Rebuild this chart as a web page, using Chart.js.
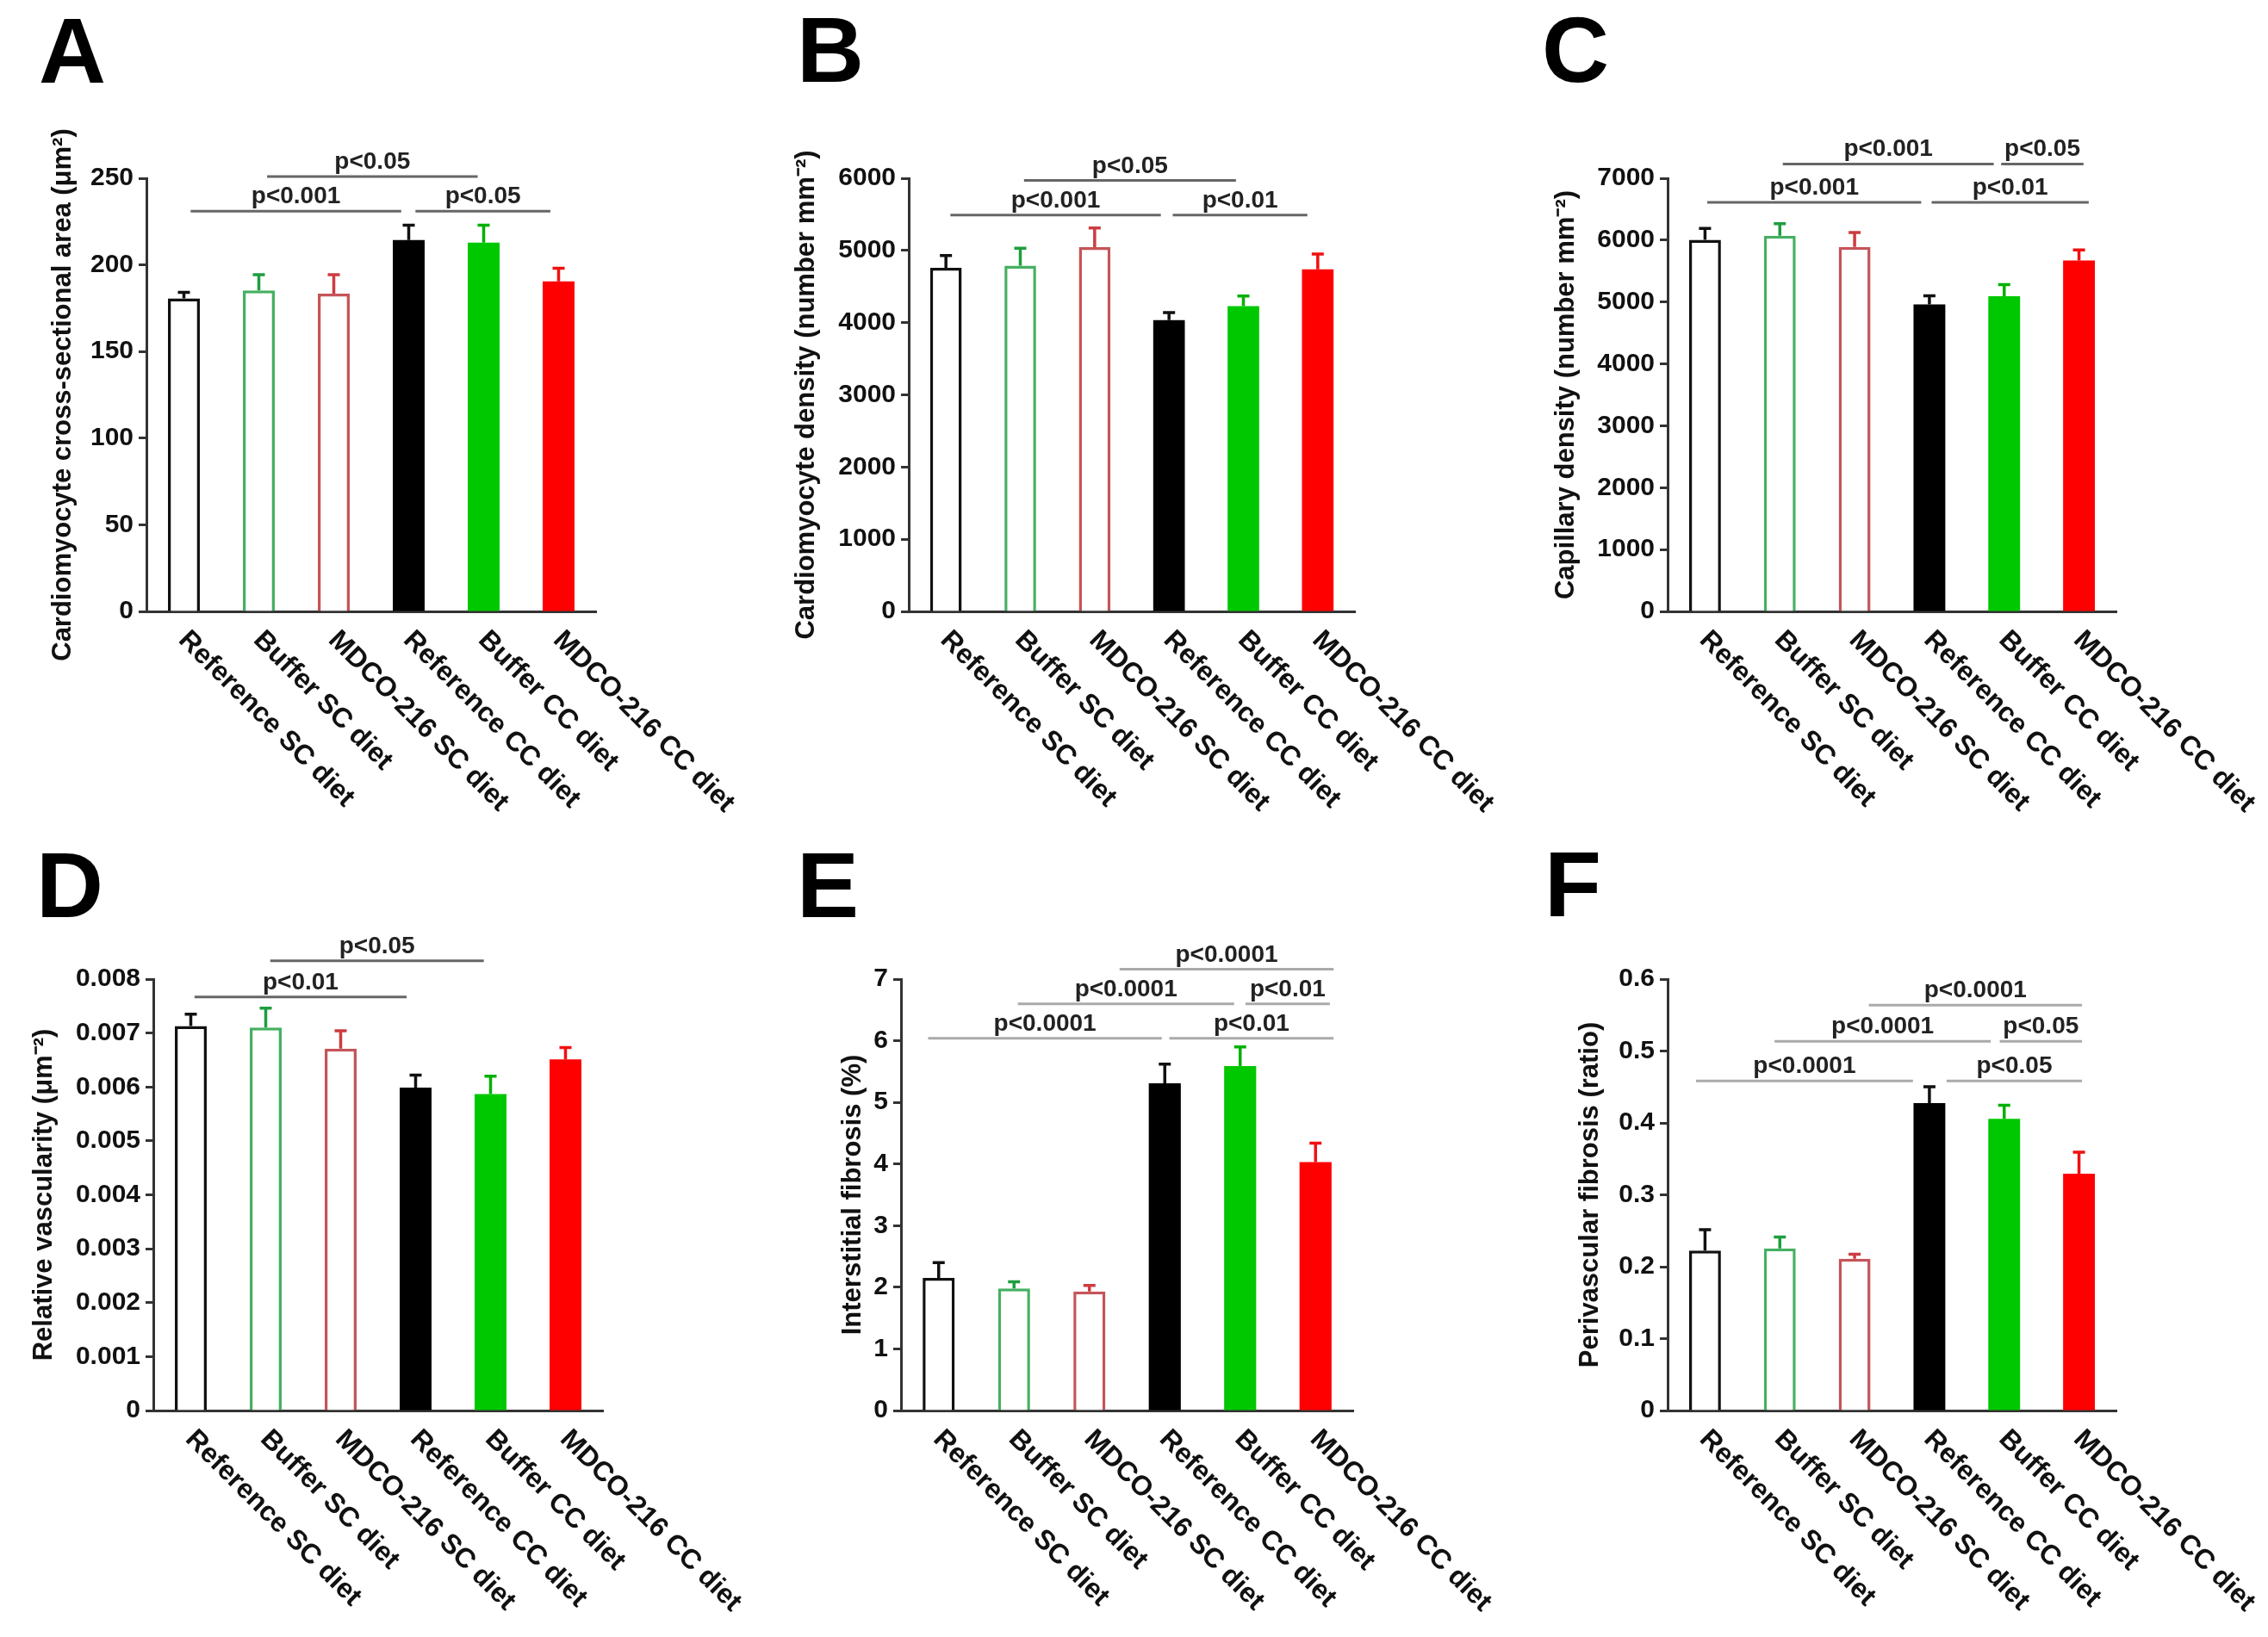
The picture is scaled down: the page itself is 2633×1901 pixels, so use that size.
<!DOCTYPE html>
<html><head><meta charset="utf-8">
<script src="https://cdn.jsdelivr.net/npm/chart.js@4.4.1/dist/chart.umd.min.js"></script>
<style>
html,body{margin:0;padding:0;background:#fff;}
#wrap{position:relative;width:2633px;height:1901px;background:#fff;}
#wrap canvas{position:absolute;left:0;top:0;}
</style></head><body><div id="wrap"></div>
<script>
const FONT = "'Liberation Sans', Arial, Helvetica, sans-serif";
const categories = ['Reference SC diet','Buffer SC diet','MDCO-216 SC diet','Reference CC diet','Buffer CC diet','MDCO-216 CC diet'];

// A: cardiomyocyte cross-sectional area
const valuesA = [180.7, 185.3, 183.4, 214.3, 212.8, 190.5];
const semA    = [3.5, 9.0, 10.9, 8.6, 10.1, 7.6];
const ticksA  = ['0','50','100','150','200','250'];
const sigA = [
  {from:0.09, to:2.90, y:231, label:'p<0.001'},
  {from:1.11, to:3.92, y:251, label:'p<0.05'},
  {from:3.09, to:4.89, y:231, label:'p<0.05'}
];
// B: cardiomyocyte density
const valuesB = [4760, 4790, 5045, 4035, 4230, 4740];
const semB    = [170, 240, 265, 105, 140, 210];
const ticksB  = ['0','1000','2000','3000','4000','5000','6000'];
const sigB = [
  {from:0.06, to:2.89, y:5490, label:'p<0.001'},
  {from:1.05, to:3.90, y:5970, label:'p<0.05'},
  {from:3.05, to:4.86, y:5490, label:'p<0.01'}
];
// C: capillary density
const valuesC = [6005, 6070, 5890, 4960, 5095, 5670];
const semC    = [185, 195, 235, 140, 185, 170];
const ticksC  = ['0','1000','2000','3000','4000','5000','6000','7000'];
const sigC = [
  {from:0.03, to:2.89, y:6610, label:'p<0.001'},
  {from:3.03, to:5.13, y:6610, label:'p<0.01'},
  {from:1.04, to:3.86, y:7230, label:'p<0.001'},
  {from:3.96, to:5.06, y:7230, label:'p<0.05'}
];
// D: relative vascularity
const valuesD = [0.00713, 0.00710, 0.00671, 0.00599, 0.00587, 0.00651];
const semD    = [0.00022, 0.00036, 0.00033, 0.00023, 0.00033, 0.00022];
const ticksD  = ['0','0.001','0.002','0.003','0.004','0.005','0.006','0.007','0.008'];
const sigD = [
  {from:0.05, to:2.88, y:0.00767, label:'p<0.01'},
  {from:1.06, to:3.91, y:0.00834, label:'p<0.05'}
];
// E: interstitial fibrosis
const valuesE = [2.15, 1.98, 1.93, 5.31, 5.59, 4.03];
const semE    = [0.25, 0.11, 0.10, 0.31, 0.31, 0.31];
const ticksE  = ['0','1','2','3','4','5','6','7'];
const sigE = [
  {from:-0.14, to:2.96, y:6.04, label:'p<0.0001'},
  {from:3.06, to:5.24, y:6.04, label:'p<0.01'},
  {from:1.05, to:3.92, y:6.60, label:'p<0.0001'},
  {from:4.07, to:5.19, y:6.60, label:'p<0.01'},
  {from:2.40, to:5.24, y:7.16, label:'p<0.0001'}
];
// F: perivascular fibrosis
const valuesF = [0.2225, 0.2254, 0.2110, 0.4274, 0.4056, 0.3294];
const semF    = [0.029, 0.016, 0.0065, 0.023, 0.019, 0.030];
const ticksF  = ['0','0.1','0.2','0.3','0.4','0.5','0.6'];
const sigF = [
  {from:-0.12, to:2.78, y:0.4585, label:'p<0.0001'},
  {from:3.23, to:5.04, y:0.4585, label:'p<0.05'},
  {from:0.93, to:3.82, y:0.5136, label:'p<0.0001'},
  {from:3.94, to:5.04, y:0.5136, label:'p<0.05'},
  {from:2.19, to:5.04, y:0.5637, label:'p<0.0001'}
];

const fillColors   = ['#ffffff','#ffffff','#ffffff','#000000','#00c800','#ff0000'];
const borderColors = ['#111111','#45b062','#c65458','#000000','#00c800','#ff0000'];
const errColors    = ['#111111','#1e9e3e','#cc3c40','#111111','#00b000','#f01010'];

const W = 2633, H = 1901;
const panels = [
  {letter:'A', lx:45, ly:96, left:170, right:692, top:207, bottom:710, titleX:73, max:250, step:50,
   title:'Cardiomyocyte cross-sectional area (μm²)', values:valuesA, sem:semA, ticks:ticksA, sig:sigA, sigColor:'#666'},
  {letter:'B', lx:925, ly:95, left:1055, right:1573, top:207, bottom:710, titleX:936, max:6000, step:1000,
   title:'Cardiomyocyte density (number mm⁻²)', values:valuesB, sem:semB, ticks:ticksB, sig:sigB, sigColor:'#666'},
  {letter:'C', lx:1790, ly:95, left:1936, right:2457, top:207, bottom:710, titleX:1818, max:7000, step:1000,
   title:'Capillary density (number mm⁻²)', values:valuesC, sem:semC, ticks:ticksC, sig:sigC, sigColor:'#666'},
  {letter:'D', lx:42, ly:1065, left:178, right:700, top:1137, bottom:1638, titleX:51, max:0.008, step:0.001,
   title:'Relative vascularity (μm⁻²)', values:valuesD, sem:semD, ticks:ticksD, sig:sigD, sigColor:'#666'},
  {letter:'E', lx:925, ly:1065, left:1046, right:1571, top:1137, bottom:1638, titleX:990, max:7, step:1,
   title:'Interstitial fibrosis (%)', values:valuesE, sem:semE, ticks:ticksE, sig:sigE, sigColor:'#aaa'},
  {letter:'F', lx:1793, ly:1064, left:1936, right:2457, top:1137, bottom:1638, titleX:1846, max:0.6, step:0.1,
   title:'Perivascular fibrosis (ratio)', values:valuesF, sem:semF, ticks:ticksF, sig:sigF, sigColor:'#aaa'}
];

const overlay = {
  id: 'overlay',
  afterDatasetsDraw(chart, args, opts) {
    const p = opts.panel, ctx = chart.ctx, ys = chart.scales.y;
    const meta = chart.getDatasetMeta(0);
    meta.data.forEach((el, i) => {
      const topPx = ys.getPixelForValue(p.values[i] + p.sem[i]);
      ctx.save();
      ctx.strokeStyle = errColors[i];
      ctx.lineWidth = 3.5;
      ctx.beginPath();
      ctx.moveTo(el.x, el.y);
      ctx.lineTo(el.x, topPx);
      ctx.moveTo(el.x - 7, topPx);
      ctx.lineTo(el.x + 7, topPx);
      ctx.stroke();
      ctx.restore();
    });
  },
  afterDraw(chart, args, opts) {
    const p = opts.panel, ctx = chart.ctx, xs = chart.scales.x, ys = chart.scales.y;
    ctx.save();
    // significance brackets
    p.sig.forEach(s => {
      const x1 = xs.getPixelForValue(s.from), x2 = xs.getPixelForValue(s.to), yy = ys.getPixelForValue(s.y);
      ctx.strokeStyle = p.sigColor;
      ctx.lineWidth = 3;
      ctx.beginPath(); ctx.moveTo(x1, yy); ctx.lineTo(x2, yy); ctx.stroke();
      ctx.fillStyle = '#222';
      ctx.font = 'bold 28px ' + FONT;
      ctx.textAlign = 'center';
      ctx.textBaseline = 'alphabetic';
      ctx.fillText(s.label, (x1 + x2) / 2, yy - 9);
    });
    // rotated category labels
    ctx.fillStyle = '#111';
    ctx.font = 'bold 32px ' + FONT;
    ctx.textAlign = 'left';
    ctx.textBaseline = 'top';
    categories.forEach((c, i) => {
      const cx = xs.getPixelForValue(i);
      ctx.save();
      ctx.translate(cx + 10, p.bottom + 17);
      ctx.rotate(Math.PI / 4);
      ctx.fillText(c, 0, 0);
      ctx.restore();
    });
    // panel letter
    ctx.font = 'bold 108px ' + FONT;
    ctx.textBaseline = 'alphabetic';
    ctx.fillStyle = '#000';
    ctx.fillText(p.letter, p.lx, p.ly);
    ctx.restore();
  }
};

const wrap = document.getElementById('wrap');
panels.forEach(p => {
  const cv = document.createElement('canvas');
  cv.width = W; cv.height = H;
  cv.style.width = W + 'px'; cv.style.height = H + 'px';
  wrap.appendChild(cv);
  new Chart(cv.getContext('2d'), {
    type: 'bar',
    data: {
      labels: categories,
      datasets: [{
        data: p.values,
        backgroundColor: fillColors,
        borderColor: borderColors,
        borderWidth: [3.5, 3.5, 3.5, 0, 0, 0],
        barPercentage: 0.425,
        categoryPercentage: 1.0
      }]
    },
    options: {
      responsive: false,
      animation: false,
      devicePixelRatio: 1,
      layout: { padding: { left: 0, top: p.top, right: W - p.right, bottom: 0 } },
      plugins: { legend: { display: false }, tooltip: { enabled: false }, overlay: { panel: p } },
      scales: {
        x: {
          type: 'category',
          ticks: { display: false },
          grid: { display: false },
          border: { display: true, color: '#333', width: 3 },
          afterFit: s => { s.height = H - p.bottom; }
        },
        y: {
          min: 0, max: p.max,
          ticks: {
            stepSize: p.step,
            color: '#111',
            padding: 6,
            font: { family: FONT, size: 30, weight: 'bold' },
            callback: (v, i) => (p.ticks[i] !== undefined ? p.ticks[i] : '')
          },
          grid: { display: true, drawOnChartArea: false, drawTicks: true, tickLength: 9, tickWidth: 3, tickColor: '#333' },
          border: { display: true, color: '#333', width: 3 },
          title: {
            display: true, text: p.title, color: '#111',
            font: { family: FONT, size: 31, weight: 'bold' },
            padding: { top: p.titleX - 18.6, bottom: 0 }
          },
          afterFit: s => { s.width = p.left; }
        }
      }
    },
    plugins: [overlay]
  });
});
</script></body></html>
